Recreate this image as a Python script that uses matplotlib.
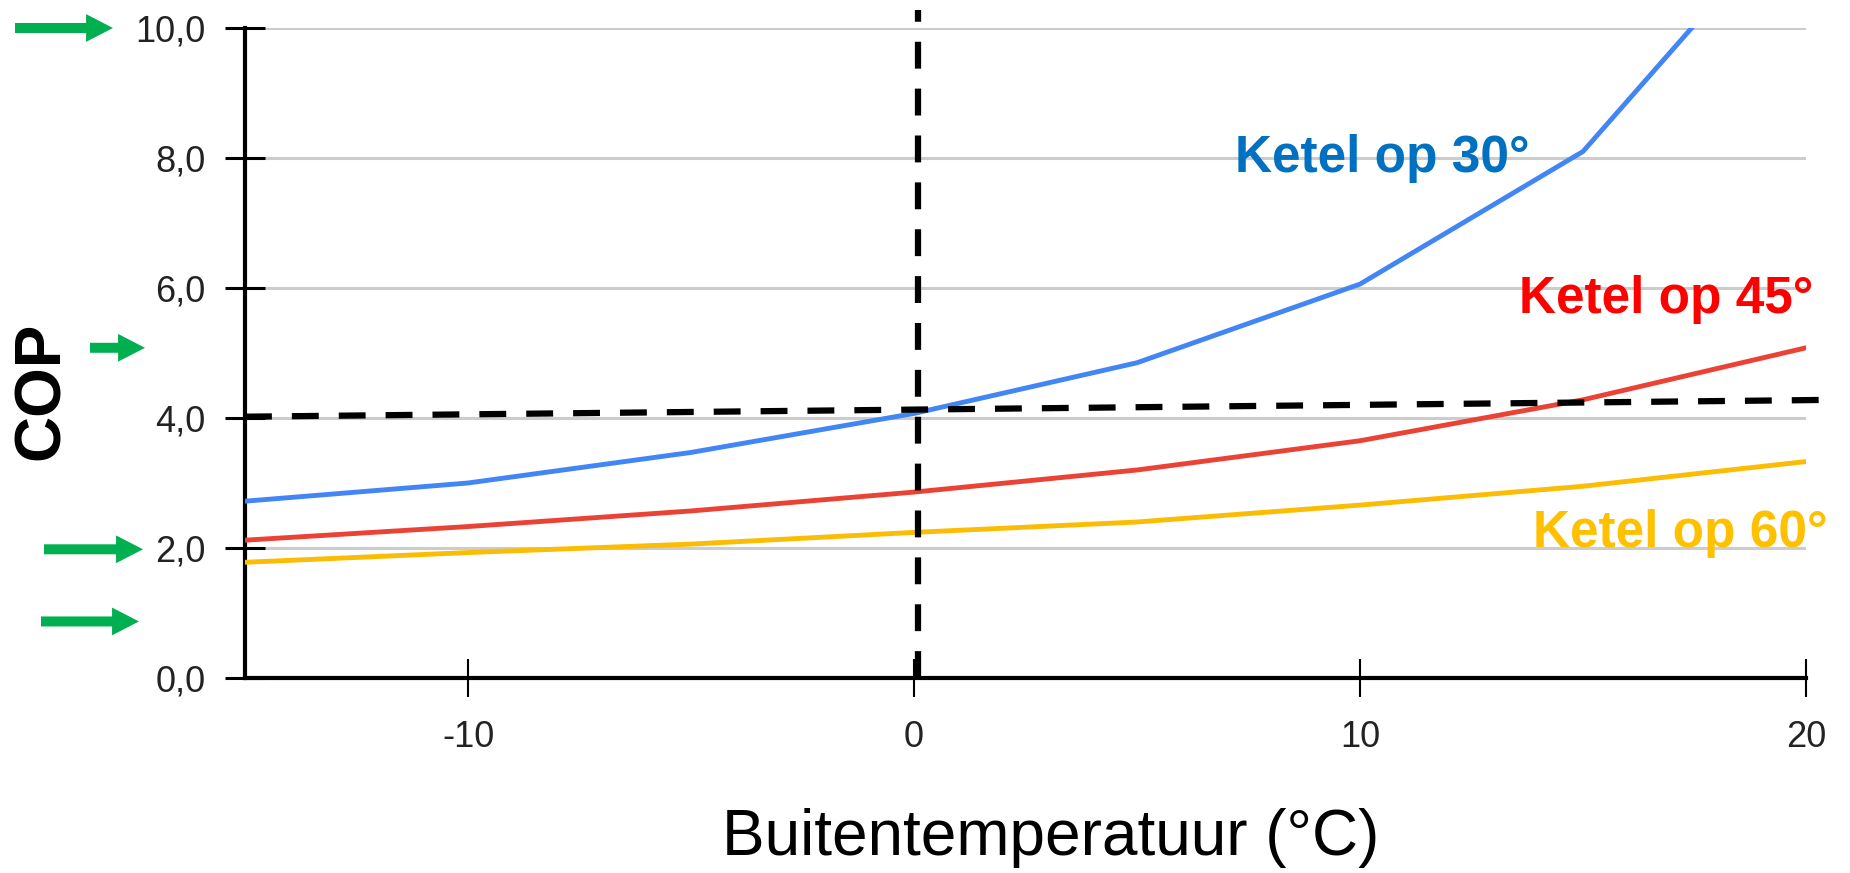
import matplotlib
matplotlib.use('Agg')
import matplotlib.pyplot as plt

plt.rcParams['font.family'] = ['Liberation Sans', 'DejaVu Sans']
plt.rcParams['axes.unicode_minus'] = False

# data
temps = [-15, -10, -5, 0, 5, 10, 15, 20]
cop_30 = [2.72, 3.00, 3.47, 4.07, 4.85, 6.06, 8.10, 12.0]
cop_45 = [2.12, 2.33, 2.57, 2.86, 3.20, 3.65, 4.28, 5.08]
cop_60 = [1.78, 1.93, 2.06, 2.24, 2.40, 2.66, 2.95, 3.33]

hline_x = [-15, 20.7]
hline_y = [4.02, 4.28]
vline_x = [0.1, 0.1]
vline_y = [0.0, 10.27]

xticks = [-10, 0, 10, 20]
yticks = [0, 2, 4, 6, 8, 10]
ytick_labels = ['0,0', '2,0', '4,0', '6,0', '8,0', '10,0']

labels = ['Ketel op 30°', 'Ketel op 45°', 'Ketel op 60°']
label_pos = [(13.81, 7.78), (20.16, 5.62), (20.49, 2.02)]
label_colors = ['#0070C0', '#FF0000', '#FFC000']

arrow_levels = [10.0, 5.08, 1.98, 0.87]
arrow_px = [(15, 113), (90, 145), (44, 143), (41, 139)]

W, H = 1850, 873
fig = plt.figure(figsize=(W / 100, H / 100), dpi=100)
ax = fig.add_axes([245 / W, 1 - 678 / H, (1806 - 245) / W, (678 - 28) / H])

ax.plot(temps, cop_30, color='#4285F4', lw=3.5, zorder=3)
ax.plot(temps, cop_45, color='#EA4335', lw=3.5, zorder=3)
ax.plot(temps, cop_60, color='#FBBC04', lw=3.5, zorder=3)

ax.plot(hline_x, hline_y, color='black', lw=4.5, dashes=(4.3, 3.2), clip_on=False, zorder=4)
ax.plot(vline_x, vline_y, color='black', lw=4.5, dashes=(4.3, 3.2), clip_on=False, zorder=4)

for txt, (tx, ty), c in zip(labels, label_pos, label_colors):
    ax.text(tx, ty, txt, color=c, fontsize=37, fontweight='bold',
            ha='right', va='baseline', zorder=5, clip_on=False)

ax.set_xlim(-15, 20)
ax.set_ylim(0, 10)
ax.set_xticks(xticks)
ax.set_yticks(yticks)
ax.set_yticklabels(ytick_labels)

for y in yticks[1:]:
    ax.axhline(y, color='#cccccc', lw=2.2, zorder=1)

for s in ['top', 'right']:
    ax.spines[s].set_visible(False)
for s in ['left', 'bottom']:
    ax.spines[s].set_linewidth(3)
    ax.spines[s].set_zorder(2)

ax.tick_params(axis='y', direction='inout', length=29, width=2.2, pad=14,
               labelsize=26, labelcolor='#222222')
ax.tick_params(axis='x', direction='inout', length=28, width=1.5, pad=16,
               labelsize=26, labelcolor='#222222')

ax.set_xlabel('Buitentemperatuur (°C)', fontsize=46)
ax.xaxis.set_label_coords((1051 - 245) / (1806 - 245), -0.20)
fig.text(42 / W, 1 - 391 / H, 'COP', rotation=90, fontsize=46,
         fontweight='bold', ha='center', va='center')

for lvl, (x0, x1) in zip(arrow_levels, arrow_px):
    ax.annotate('', xy=(x1 / W, lvl), xytext=(x0 / W, lvl),
                xycoords=('figure fraction', 'data'),
                textcoords=('figure fraction', 'data'),
                annotation_clip=False,
                arrowprops=dict(arrowstyle='simple,head_length=1.94,head_width=2.0,tail_width=0.72',
                                mutation_scale=10, color='#00B050', shrinkA=0, shrinkB=0, lw=0))

fig.savefig('out.png', dpi=100)
